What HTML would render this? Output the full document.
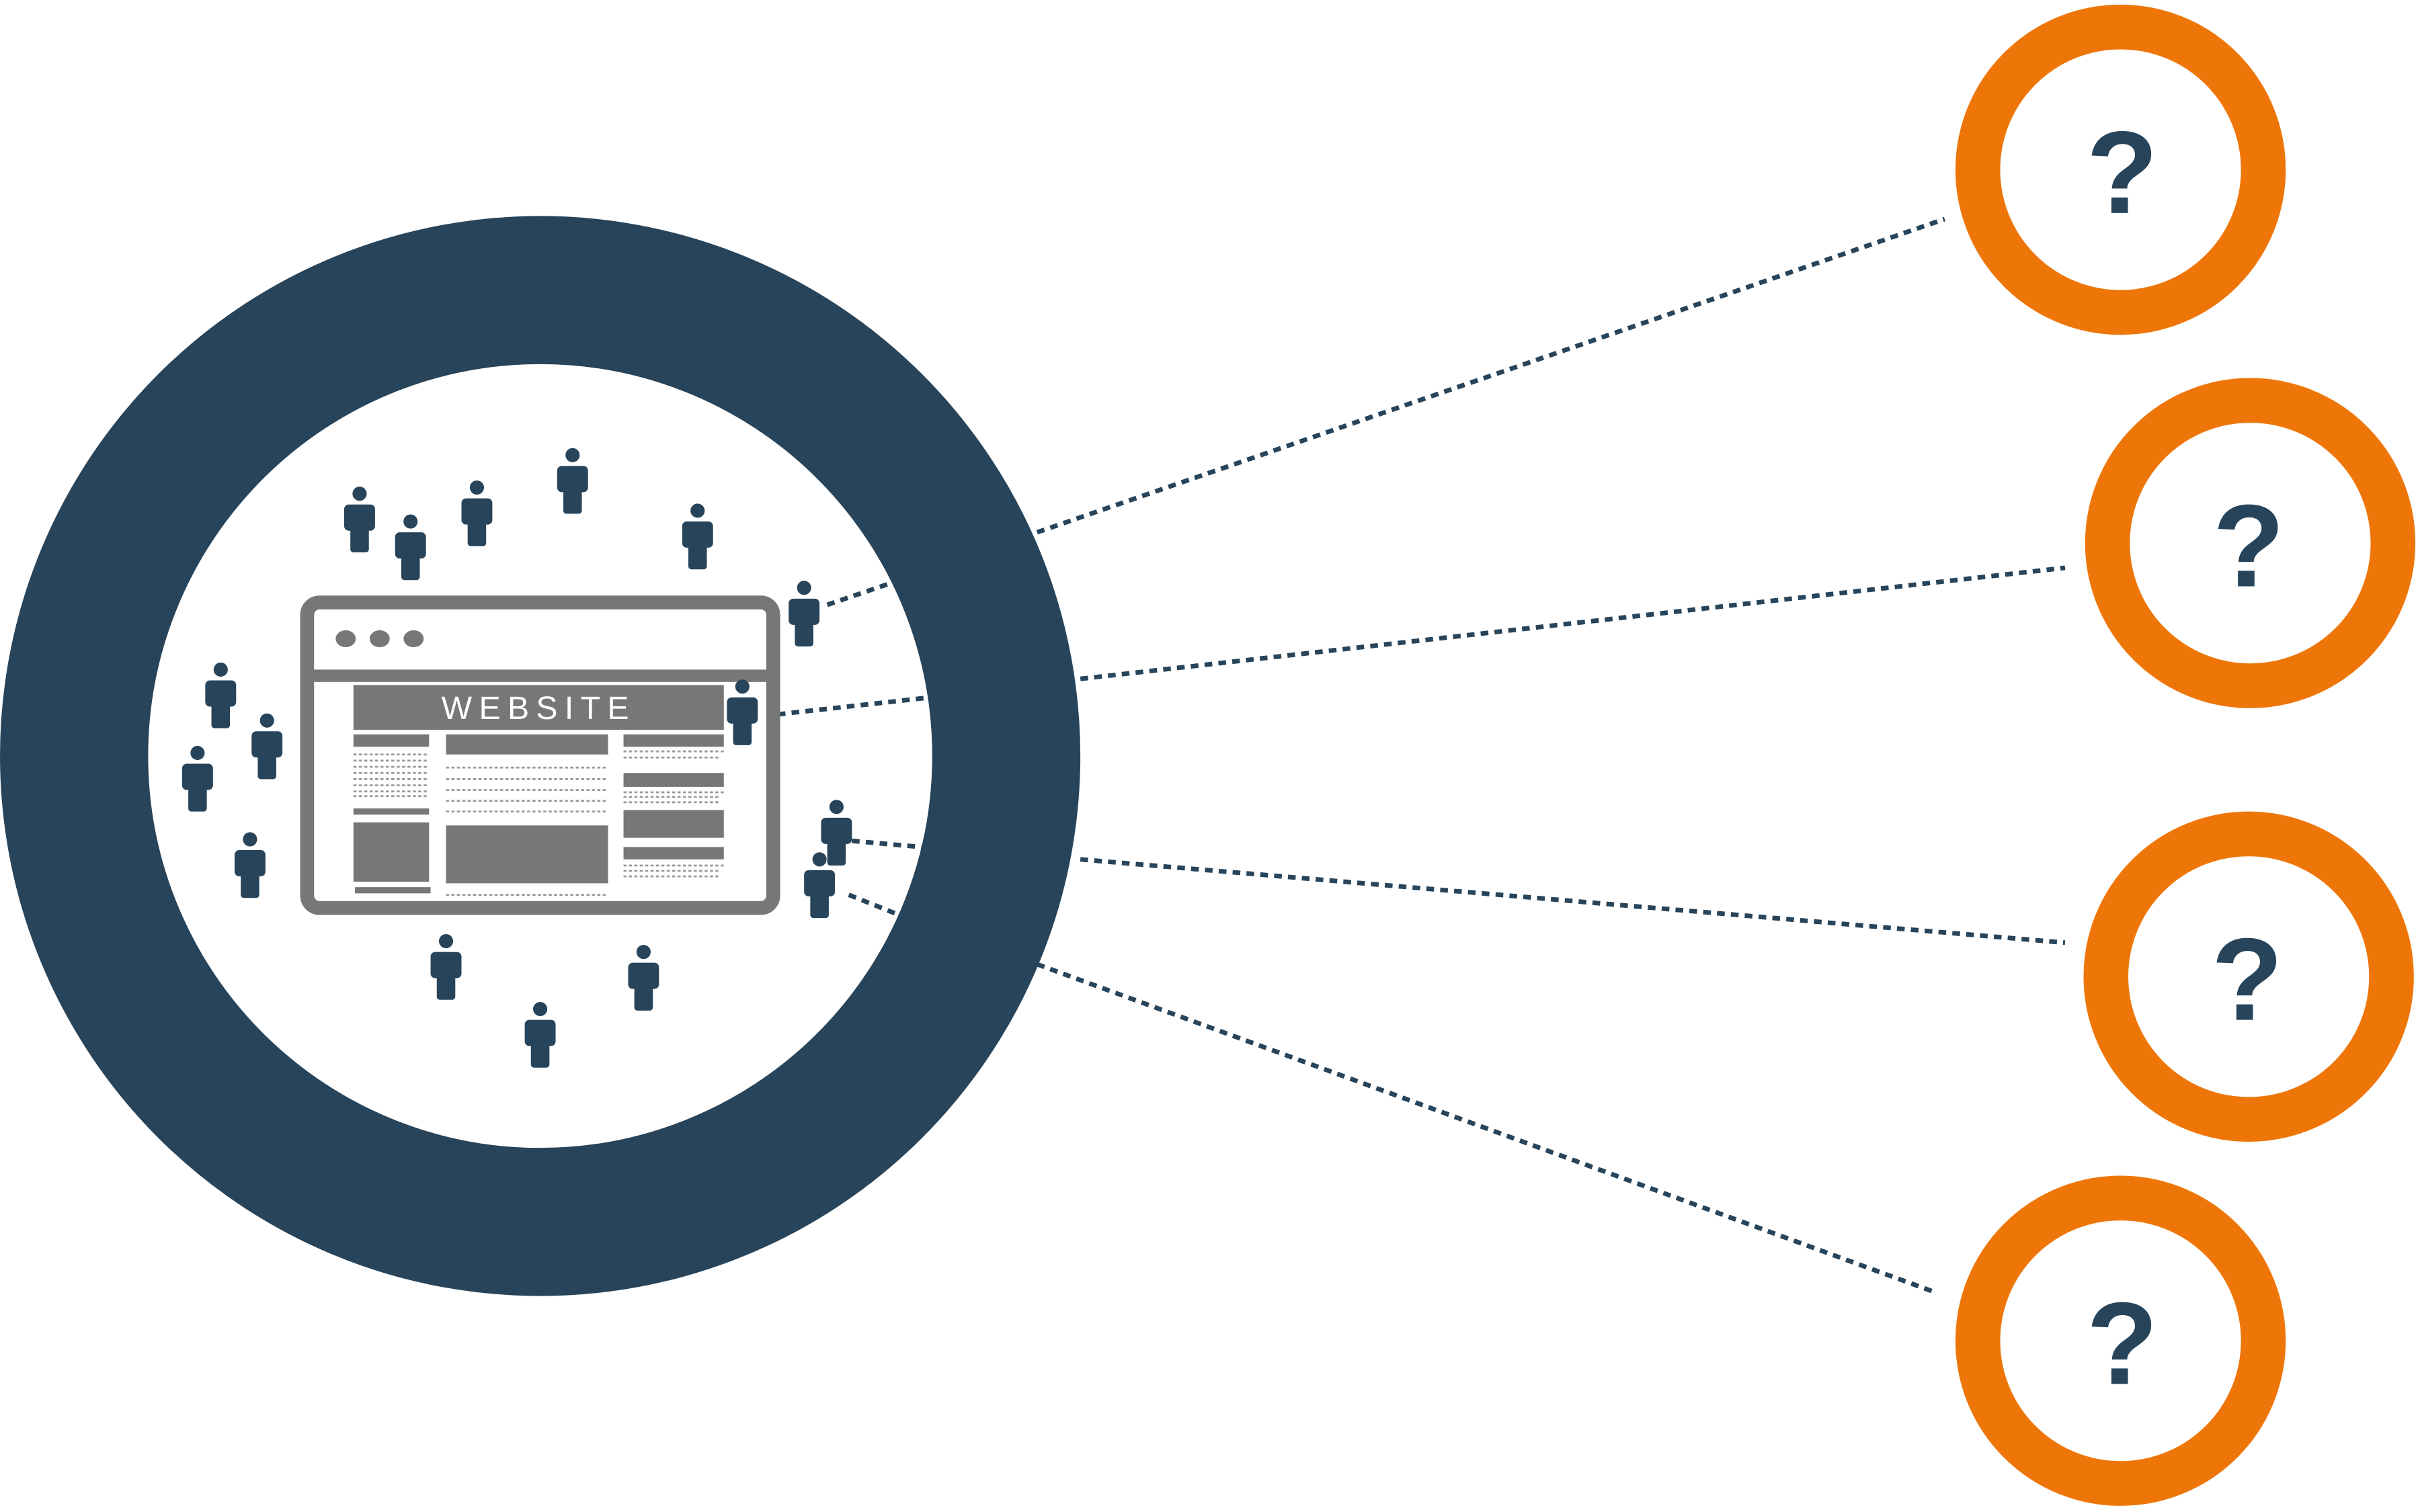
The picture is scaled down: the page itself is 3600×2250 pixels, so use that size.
<!DOCTYPE html>
<html><head><meta charset="utf-8"><style>html,body{margin:0;padding:0;background:#fff}svg{display:block}</style></head>
<body>
<svg width="3600" height="2250" viewBox="0 0 1568 980" xmlns="http://www.w3.org/2000/svg">
<defs>
<g id="p" fill="#27445a">
<circle cx="0" cy="0" r="4.6"/>
<rect x="-10" y="7" width="20" height="17" rx="3"/>
<rect x="-6" y="20" width="12" height="18" rx="2"/>
</g>
</defs>
<circle cx="350" cy="490" r="302" fill="none" stroke="#27445a" stroke-width="96"/>
<g stroke="#27445a" stroke-width="3" stroke-dasharray="5 4" fill="none">
<line x1="672" y1="345" x2="1260" y2="142"/>
<line x1="536" y1="392" x2="580" y2="377"/>
<line x1="700" y1="440" x2="1338" y2="368"/>
<line x1="495" y1="464" x2="603" y2="452"/>
<line x1="700" y1="557" x2="1338" y2="611"/>
<line x1="552" y1="545" x2="597" y2="549"/>
<line x1="672" y1="625" x2="1255" y2="838"/>
<line x1="550" y1="580" x2="580" y2="592"/>
</g>
<g fill="none" stroke="#ee7609" stroke-width="29">
<circle cx="1374" cy="110" r="92.5"/>
<circle cx="1458" cy="352" r="92.5"/>
<circle cx="1457" cy="633" r="92.5"/>
<circle cx="1374" cy="869" r="92.5"/>
</g>
<g fill="#27445a" font-family="Liberation Sans, sans-serif" font-weight="bold" font-size="76" text-anchor="middle">
<text x="1375" y="138">?</text>
<text x="1457" y="380">?</text>
<text x="1456" y="661">?</text>
<text x="1375" y="897">?</text>
</g>
<rect x="199" y="390.5" width="302" height="198" rx="8" fill="#fff" stroke="#777" stroke-width="9"/>
<rect x="199" y="434" width="302" height="8" fill="#777"/>
<g fill="#777">
<ellipse cx="224" cy="414" rx="6.5" ry="5.5"/>
<ellipse cx="246" cy="414" rx="6.5" ry="5.5"/>
<ellipse cx="268" cy="414" rx="6.5" ry="5.5"/>
<rect x="229" y="444" width="240" height="29"/>
<rect x="229" y="476" width="49" height="8"/>
<rect x="229" y="524" width="49" height="4"/>
<rect x="229" y="533" width="49" height="38.5"/>
<rect x="230" y="575" width="49" height="4"/>
<rect x="289" y="476" width="105" height="13"/>
<rect x="289" y="535" width="105" height="37.5"/>
<rect x="404" y="476" width="65" height="8"/>
<rect x="404" y="501" width="65" height="9"/>
<rect x="404" y="525" width="65" height="18"/>
<rect x="404" y="549" width="65" height="8"/>
</g>
<text x="349" y="466" fill="#fff" font-family="Liberation Sans, sans-serif" font-size="21" letter-spacing="4.5" text-anchor="middle">WEBSITE</text>
<g stroke="#999" stroke-width="1.2" stroke-dasharray="2 1.5">
<line x1="229" y1="489" x2="278" y2="489"/><line x1="229" y1="493" x2="278" y2="493"/>
<line x1="229" y1="497" x2="278" y2="497"/><line x1="229" y1="501" x2="278" y2="501"/>
<line x1="229" y1="505" x2="278" y2="505"/><line x1="229" y1="509" x2="278" y2="509"/>
<line x1="229" y1="513" x2="278" y2="513"/><line x1="229" y1="516" x2="278" y2="516"/>
<line x1="289" y1="497.5" x2="394" y2="497.5"/><line x1="289" y1="505" x2="394" y2="505"/>
<line x1="289" y1="512" x2="394" y2="512"/><line x1="289" y1="519" x2="394" y2="519"/>
<line x1="289" y1="526" x2="394" y2="526"/><line x1="289" y1="580" x2="394" y2="580"/>
<line x1="404" y1="487" x2="469" y2="487"/><line x1="404" y1="491" x2="466" y2="491"/>
<line x1="404" y1="513.5" x2="469" y2="513.5"/><line x1="404" y1="516.5" x2="466" y2="516.5"/>
<line x1="404" y1="520" x2="466" y2="520"/>
<line x1="404" y1="561" x2="469" y2="561"/><line x1="404" y1="564.5" x2="466" y2="564.5"/>
<line x1="404" y1="568" x2="466" y2="568"/>
</g>
<use href="#p" x="233" y="320"/><use href="#p" x="266" y="338"/>
<use href="#p" x="309" y="316"/><use href="#p" x="371" y="295"/>
<use href="#p" x="452" y="331"/><use href="#p" x="521" y="381"/>
<use href="#p" x="143" y="434"/><use href="#p" x="173" y="467"/>
<use href="#p" x="128" y="488"/><use href="#p" x="162" y="544"/>
<use href="#p" x="481" y="445"/><use href="#p" x="542" y="523"/>
<use href="#p" x="531" y="557"/><use href="#p" x="289" y="610"/>
<use href="#p" x="417" y="617"/><use href="#p" x="350" y="654"/>
</svg>
</body></html>
